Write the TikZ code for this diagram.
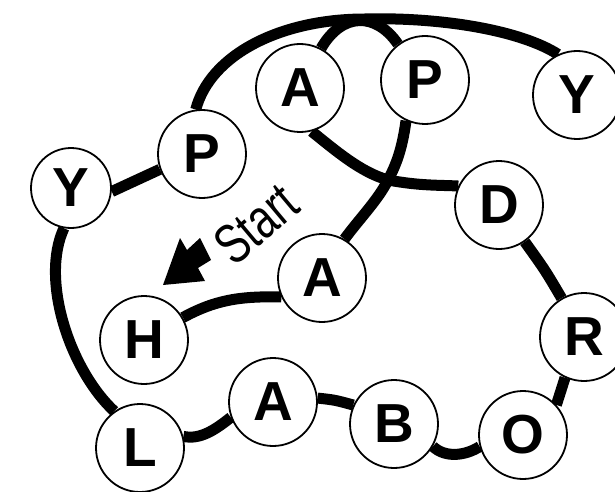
\documentclass[tikz,border=0pt]{standalone}
\usepackage{fontspec}
\setmainfont{Liberation Sans}
\usetikzlibrary{backgrounds}
\begin{document}
\begin{tikzpicture}[x=1pt,y=-1pt,
  letter/.style={circle, draw, line width=1.8pt, fill=white, minimum size=88pt, inner sep=0pt, font=\fontsize{55}{55}\selectfont\bfseries},
  link/.style={line width=11pt, line cap=butt},
  startlabel/.style={font=\fontsize{56}{56}\selectfont, inner sep=0pt}]
\useasboundingbox (0,0) rectangle (615,492);
\node[letter, minimum size=80pt] (Yl) at (71,188) {Y};
\node[letter] (Pl) at (202,154) {P};
\node[letter] (At) at (300,88) {A};
\node[letter] (Pt) at (425,80) {P};
\node[letter] (Yr) at (577,95) {Y};
\node[letter] (D) at (499,205) {D};
\node[letter] (Am) at (322,278) {A};
\node[letter] (H) at (144,340) {H};
\node[letter] (R) at (584,337) {R};
\node[letter] (Ab) at (273,402) {A};
\node[letter] (B) at (394,424) {B};
\node[letter] (O) at (523,435) {O};
\node[letter] (L) at (140,448) {L};
\coordinate (J) at (388,180);
\coordinate (T) at (365,19);
\begin{scope}[on background layer]
  \draw[link] (Yl.-5) -- (Pl.200);
  \draw[link] (Yl.-100) .. controls (40,280) and (70,370) .. (L.125);
  \draw[link] (L.15) .. controls (200,440) and (215,430) .. (Ab.200);
  \draw[link] (Ab.5) .. controls (335,400) .. (B.155);
  \draw[link] (B.-30) .. controls (445,458) and (465,456) .. (O.195);
  \draw[link] (O.42) -- (R.245);
  \draw[link] (R.120) .. controls (545,270) .. (D.-55);
  \draw[link] (At.-75) .. controls (335,150) and (360,172) .. (J) .. controls (420,186) and (440,185) .. (D.155);
  \draw[link] (Pt.-115) .. controls (402,150) and (396,165) .. (J) .. controls (378,200) and (360,218) .. (Am.60);
  \draw[link] (H.30) .. controls (215,300) and (240,296) .. (Am.205);
  \draw[link] (Pl.98) .. controls (210,55) and (280,19) .. (T) .. controls (440,17) and (520,30) .. (Yr.115);
  \draw[link] (At.62) .. controls (342,12) and (376,12) .. (Pt.127);
\end{scope}
\fill (163,285) -- (180,238) -- (187,250) -- (200,238) -- (211,260) -- (198,268) -- (205,281) -- cycle;
\node[startlabel, rotate=40, xscale=0.75] (start) at (256,224) {Start};
\end{tikzpicture}
\end{document}
